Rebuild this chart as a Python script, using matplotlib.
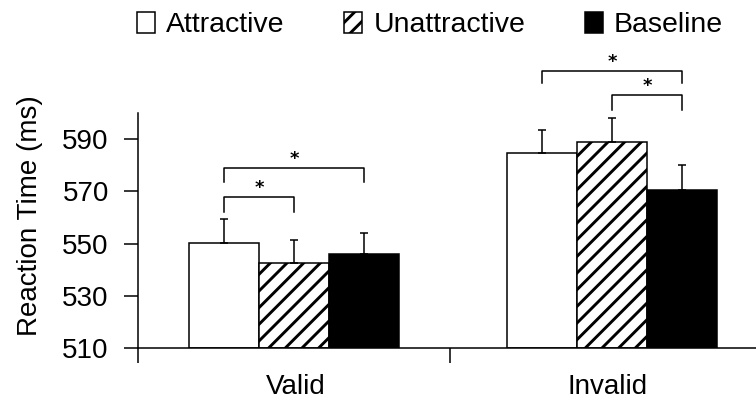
import matplotlib
matplotlib.use("Agg")
import matplotlib.pyplot as plt
from matplotlib.patches import Patch

plt.rcParams['font.family'] = ['Liberation Sans', 'DejaVu Sans']
plt.rcParams['hatch.linewidth'] = 2.1

# ---- data ----
categories = ["Valid", "Invalid"]
conditions = ["Attractive", "Unattractive", "Baseline"]
means = {
    "Attractive":   [550.1, 584.5],
    "Unattractive": [542.4, 588.9],
    "Baseline":     [545.9, 570.5],
}
errors = {
    "Attractive":   [9.3, 8.8],
    "Unattractive": [8.9, 9.2],
    "Baseline":     [8.0, 9.7],
}
yticks = [510, 530, 550, 570, 590]
# significance brackets: (category index, condition a, condition b, bar height, leg bottom)
brackets = [
    (0, 0, 1, 567.7, 562.0),
    (0, 0, 2, 579.0, 573.4),
    (1, 0, 2, 616.0, 611.3),
    (1, 1, 2, 606.8, 601.3),
]

# ---- styles ----
facecolors = ["white", "white", "black"]
hatches = [None, "//", None]
bar_w = 0.225
offsets = [-0.225, 0.0, 0.225]
group_shift = [0.0, 0.019]

fig = plt.figure(figsize=(7.56, 4.07), dpi=100)
ax = fig.add_axes([138/756, 1-348/407, (762-138)/756, (348-113)/407])

def xpos(ci, k):
    return ci + group_shift[ci] + offsets[k]

for k, cond in enumerate(conditions):
    xs = [xpos(ci, k) for ci in range(len(categories))]
    ax.bar(xs, [m - 510 for m in means[cond]], bottom=510, width=bar_w,
           color=facecolors[k], edgecolor="black", hatch=hatches[k],
           linewidth=1.1, zorder=2)
    ax.errorbar(xs, means[cond], yerr=[[0]*len(xs), errors[cond]], fmt="none",
                ecolor="black", elinewidth=1.1, capsize=2.6, capthick=1.1, zorder=3)

for ci, a, b, h, low in brackets:
    xa, xb = xpos(ci, a), xpos(ci, b)
    ax.plot([xa, xa, xb, xb], [low, h, h, low], color="black", lw=1.1,
            clip_on=False, zorder=4)
    ax.text((xa + xb) / 2, h + 3.4, "*", ha="center", va="center",
            fontsize=13, fontweight="bold", family="DejaVu Sans", clip_on=False)

ax.set_xlim(-0.5, 1.5)
ax.set_ylim(510, 600)
ax.set_yticks(yticks)
ax.set_yticklabels([str(t) for t in yticks], fontsize=20)
ax.tick_params(axis="y", direction="out", length=10, width=1.1, pad=11)

ax.set_xticks([-0.5, 0.5, 1.5])
ax.set_xticklabels([])
ax.tick_params(axis="x", which="major", direction="out", length=11, width=1.1)
ax.set_xticks([0.006, 1.006], minor=True)
ax.set_xticklabels(categories, minor=True, fontsize=20)
ax.tick_params(axis="x", which="minor", length=0, pad=19)

for s in ["top", "right"]:
    ax.spines[s].set_visible(False)
for s in ["left", "bottom"]:
    ax.spines[s].set_linewidth(1.1)

ax.set_ylabel("Reaction Time (ms)", fontsize=20, va="center")
ax.yaxis.set_label_coords(-0.173, 0.562)

handles = [Patch(facecolor=facecolors[k], edgecolor="black", hatch=hatches[k],
                 linewidth=1.1) for k in range(3)]
fig.legend(handles, conditions, ncol=3, loc="center left",
           bbox_to_anchor=(137/756, 1 - 25/407), frameon=False, fontsize=20.5,
           handlelength=0.62, handleheight=0.8, handletextpad=0.4,
           columnspacing=2.1, borderaxespad=0, borderpad=0)

fig.savefig("out.png", dpi=100)
